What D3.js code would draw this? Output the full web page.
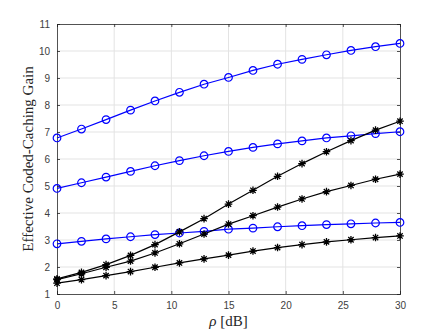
<!DOCTYPE html>
<html>
<head>
<meta charset="utf-8">
<script src="https://cdn.jsdelivr.net/npm/d3@7"></script>
<style>
  body { margin: 0; background: #fff; }
  svg { display: block; }
</style>
</head>
<body>
<div id="chart"></div>
<script>
const layout = {
    width: 443,
    height: 331,
    marginLeft: 57,
    marginTop: 24,
    chartWidth: 343,
    chartHeight: 270
};

// rho [dB] sample points
const rho = [0, 2.14, 4.29, 6.43, 8.57, 10.71, 12.86, 15, 17.14, 19.29, 21.43, 23.57, 25.71, 27.86, 30];

// blue series (circles)
const blueTop = [6.78, 7.11, 7.46, 7.81, 8.15, 8.47, 8.77, 9.02, 9.28, 9.51, 9.69, 9.86, 10.02, 10.16, 10.28];
const blueMid = [4.91, 5.12, 5.33, 5.54, 5.75, 5.94, 6.12, 6.28, 6.43, 6.56, 6.67, 6.78, 6.86, 6.94, 7.01];
const blueLow = [2.86, 2.95, 3.04, 3.12, 3.20, 3.26, 3.32, 3.40, 3.44, 3.49, 3.53, 3.57, 3.60, 3.63, 3.65];

// black series (asterisks)
const blackTop = [1.56, 1.80, 2.09, 2.43, 2.83, 3.30, 3.79, 4.33, 4.84, 5.36, 5.83, 6.27, 6.68, 7.07, 7.40];
const blackMid = [1.53, 1.75, 1.99, 2.22, 2.52, 2.86, 3.22, 3.59, 3.90, 4.22, 4.52, 4.79, 5.02, 5.25, 5.44];
const blackLow = [1.40, 1.53, 1.68, 1.83, 1.99, 2.15, 2.30, 2.44, 2.59, 2.72, 2.83, 2.93, 3.01, 3.09, 3.15];

const xTicks = [0, 5, 10, 15, 20, 25, 30];
const yTicks = [1, 2, 3, 4, 5, 6, 7, 8, 9, 10, 11];

const series = [
    { values: blueTop, color: "#0000ff", marker: "circle" },
    { values: blueMid, color: "#0000ff", marker: "circle" },
    { values: blueLow, color: "#0000ff", marker: "circle" },
    { values: blackTop, color: "#000000", marker: "star" },
    { values: blackMid, color: "#000000", marker: "star" },
    { values: blackLow, color: "#000000", marker: "star" }
];

const svg = d3.select("#chart").append("svg")
    .attr("width", layout.width)
    .attr("height", layout.height);

const xScale = d3.scaleLinear().domain([0, 30]).range([0, layout.chartWidth]);
const yScale = d3.scaleLinear().domain([1, 11]).range([layout.chartHeight, 0]);

const g = svg.append("g")
    .attr("transform", `translate(${layout.marginLeft},${layout.marginTop})`);

// grid
g.append("g").selectAll("line").data(xTicks.slice(1, -1)).join("line")
    .attr("x1", d => xScale(d)).attr("x2", d => xScale(d))
    .attr("y1", 0).attr("y2", layout.chartHeight)
    .attr("stroke", "#e3e3e3").attr("stroke-width", 1);
g.append("g").selectAll("line").data(yTicks.slice(1, -1)).join("line")
    .attr("x1", 0).attr("x2", layout.chartWidth)
    .attr("y1", d => yScale(d)).attr("y2", d => yScale(d))
    .attr("stroke", "#e3e3e3").attr("stroke-width", 1);

// axes (ticks inward, box on)
const tickColor = "#262626";
const xAxis = g.append("g")
    .attr("transform", `translate(0,${layout.chartHeight})`)
    .call(d3.axisBottom(xScale).tickValues(xTicks).tickSize(-3).tickPadding(8));
const yAxis = g.append("g")
    .call(d3.axisLeft(yScale).tickValues(yTicks).tickSize(-3).tickPadding(7));
const xTop = g.append("g")
    .call(d3.axisTop(xScale).tickValues(xTicks).tickSize(-3).tickFormat(""));
const yRight = g.append("g")
    .attr("transform", `translate(${layout.chartWidth},0)`)
    .call(d3.axisRight(yScale).tickValues(yTicks).tickSize(-3).tickFormat(""));
[xAxis, yAxis, xTop, yRight].forEach(a => {
    a.selectAll("line, .domain").attr("stroke", tickColor).attr("stroke-width", 0.8);
    a.selectAll("text")
        .attr("fill", "#404040")
        .attr("font-family", "Liberation Sans, Arial, sans-serif")
        .attr("font-size", 10);
});

// series lines and markers
const line = d3.line()
    .x((d, i) => xScale(rho[i]))
    .y(d => yScale(d));

const starPath = (r) => {
    const c = r * Math.SQRT1_2;
    return `M${-r},0L${r},0M0,${-r}L0,${r}M${-c},${-c}L${c},${c}M${-c},${c}L${c},${-c}`;
};

series.forEach(s => {
    g.append("path")
        .datum(s.values)
        .attr("fill", "none")
        .attr("stroke", s.color)
        .attr("stroke-width", 1.2)
        .attr("d", line);
    const marks = g.append("g").selectAll("g").data(s.values).join("g")
        .attr("transform", (d, i) => `translate(${xScale(rho[i])},${yScale(d)})`);
    if (s.marker === "circle") {
        marks.append("circle")
            .attr("r", 3.8)
            .attr("fill", "none")
            .attr("stroke", s.color)
            .attr("stroke-width", 1.2);
    } else {
        marks.append("path")
            .attr("d", starPath(3.8))
            .attr("fill", "none")
            .attr("stroke", s.color)
            .attr("stroke-width", 1.3);
    }
});

// axis labels
svg.append("text")
    .attr("transform", `translate(${layout.marginLeft + layout.chartWidth / 2},326)`)
    .attr("text-anchor", "middle")
    .attr("font-family", "Liberation Serif, DejaVu Serif, serif")
    .attr("font-size", 15)
    .attr("fill", tickColor)
    .html('<tspan font-style="italic">ρ</tspan> [dB]');

svg.append("text")
    .attr("transform", `translate(33,${layout.marginTop + layout.chartHeight / 2}) rotate(-90)`)
    .attr("text-anchor", "middle")
    .attr("font-family", "Liberation Serif, DejaVu Serif, serif")
    .attr("font-size", 15)
    .attr("fill", tickColor)
    .text("Effective Coded-Caching Gain");
</script>
</body>
</html>
